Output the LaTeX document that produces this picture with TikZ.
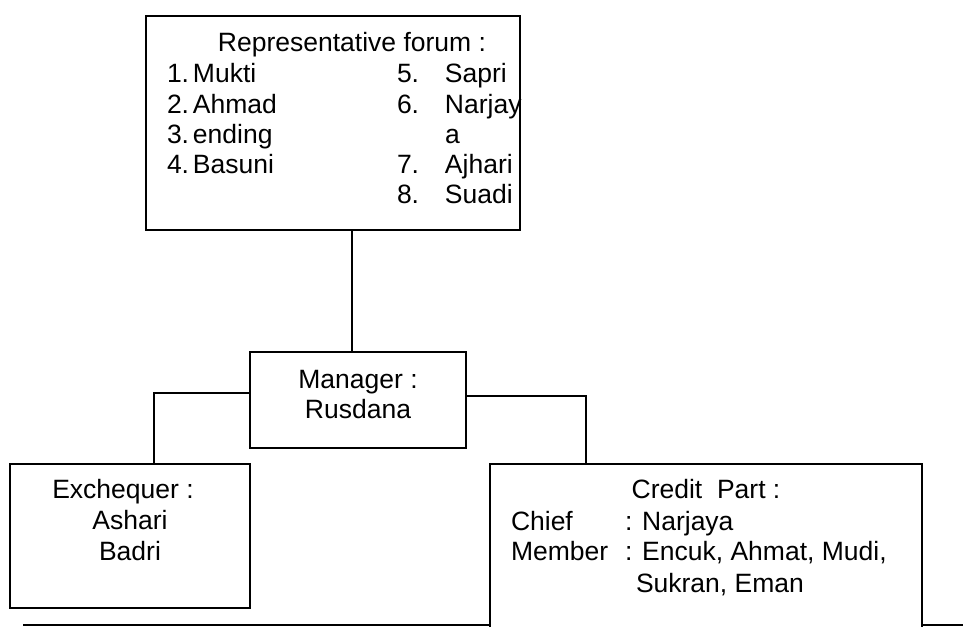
\documentclass[tikz,border=0pt]{standalone}
\usepackage{fontspec}
\setmainfont{Liberation Sans}
\usetikzlibrary{calc}
\begin{document}
\begin{tikzpicture}[x=1pt,y=-1pt,
  line width=1.7pt,
  orgbox/.style={draw, rectangle, inner sep=0pt, outer sep=0pt},
  lbl/.style={inner sep=0pt, outer sep=0pt, font=\fontsize{26.5}{30}\selectfont},
  lblL/.style={lbl, anchor=base west},
  lblC/.style={lbl, anchor=base},
  link/.style={line cap=rect}]
\useasboundingbox (0,0) rectangle (963,626);

% boxes
\node[orgbox, minimum width=374pt, minimum height=214pt] (forum) at (333,123) {};
\node[orgbox, minimum width=216pt, minimum height=96pt] (manager) at (358,400) {};
\node[orgbox, minimum width=240pt, minimum height=144pt] (exch) at (130,536) {};
\node[orgbox, minimum width=432pt, minimum height=180pt] (credit) at (706,554) {};

% representative forum
\node[lblC] (forumtitle) at (352,52) {Representative forum :};
\node[lblL] (f1) at (167,82)  {\makebox[26pt][l]{1.}Mukti};
\node[lblL] (f2) at (167,113) {\makebox[26pt][l]{2.}Ahmad};
\node[lblL] (f3) at (167,143) {\makebox[26pt][l]{3.}ending};
\node[lblL] (f4) at (167,173) {\makebox[26pt][l]{4.}Basuni};
\node[lblL] (f5) at (397,82)  {\makebox[48pt][l]{5.}Sapri};
\node[lblL] (f6) at (397,113) {\makebox[48pt][l]{6.}Narjay};
\node[lblL] (f6b) at (445,143) {a};
\node[lblL] (f7) at (397,173) {\makebox[48pt][l]{7.}Ajhari};
\node[lblL] (f8) at (397,203) {\makebox[48pt][l]{8.}Suadi};

% manager
\node[lblC] (m1) at (358,388) {Manager :};
\node[lblC] (m2) at (358,418) {Rusdana};

% exchequer
\node[lblC] (e1) at (123,498) {Exchequer :};
\node[lblC] (e2) at (130,529) {Ashari};
\node[lblC] (e3) at (130,560) {Badri};

% credit part
\node[lblC] (c0) at (706,498) {Credit\ \ Part :};
\node[lblL] (c1) at (511,530) {Chief};
\node[lblL] (c1b) at (625,530) {: Narjaya};
\node[lblL] (c2) at (511,560) {Member};
\node[lblL] (c2b) at (625,560) {: Encuk, Ahmat, Mudi,};
\node[lblL] (c3) at (636,592) {Sukran, Eman};

% connector anchor columns/rows
\coordinate (colF) at (352,0);
\coordinate (colE) at (154,0);
\coordinate (colC) at (586,0);
\coordinate (rowE) at (0,393);
\coordinate (rowC) at (0,396);
\coordinate (ruleL) at (23,625);
\coordinate (ruleR) at (963,625);

% connectors
\draw (forum.south -| colF) -- (manager.north -| colF);
\draw (manager.west |- rowE) -- (colE |- rowE) -- (exch.north -| colE);
\draw (manager.east |- rowC) -- (colC |- rowC) -- (credit.north -| colC);

% base rule
\draw (ruleL) -- (credit.west |- ruleL);
\draw (credit.east |- ruleR) -- (ruleR);
\end{tikzpicture}
\end{document}
